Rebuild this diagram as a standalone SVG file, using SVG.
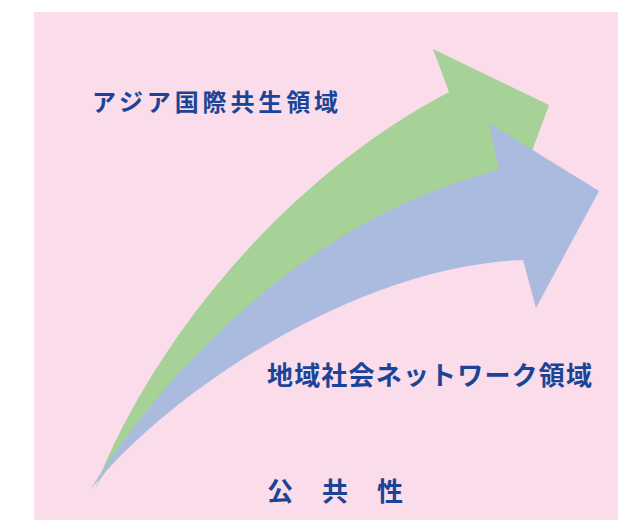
<svg xmlns="http://www.w3.org/2000/svg" width="618" height="520" viewBox="0 0 618 520">
  <style>
    .lbl { font-family: "Noto Sans CJK JP", "Noto Sans CJK SC", sans-serif; font-weight: bold; fill: #1B4496; }
  </style>
  <rect x="34" y="12" width="584" height="508" fill="#FADCEB"/>
  <g id="arrow-asia">
    <path d="M95,488 C155,335 290,175 449,92 L433,49 L549,105 L522,178 L505,185 C380,215 160,380 95,488 Z" fill="#A6D197"/>
  </g>
  <g id="arrow-local">
    <path d="M90,490 C160,380 300,220 499,170 L489,123 L599,191 L536,308 L523,260 C360,265 170,390 90,490 Z" fill="#ABBBDF"/>
  </g>
  <g id="label-asia">
    <text class="lbl" x="92" y="111" font-size="24" textLength="246" lengthAdjust="spacing">アジア国際共生領域</text>
  </g>
  <g id="label-local">
    <text class="lbl" x="267" y="385" font-size="26" textLength="325" lengthAdjust="spacing">地域社会ネットワーク領域</text>
  </g>
  <g id="label-public">
    <text class="lbl" x="267" y="501" font-size="26" textLength="136" lengthAdjust="spacing">公 共 性</text>
  </g>
</svg>
